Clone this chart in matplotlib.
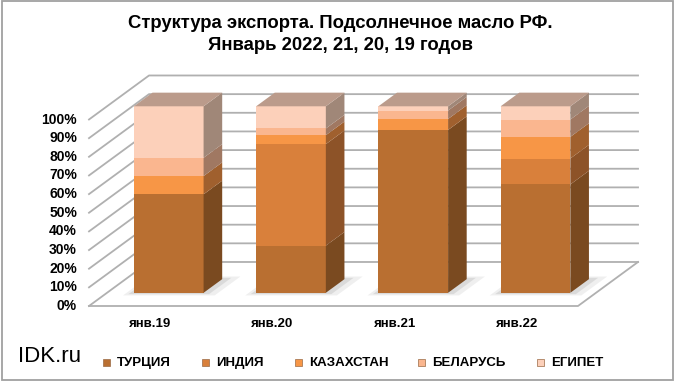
import matplotlib
matplotlib.use("Agg")
import matplotlib.pyplot as plt
from matplotlib.patches import Polygon, Rectangle

# --- data (shares, %) ---
categories = ["янв.19", "янв.20", "янв.21", "янв.22"]
series_names = ["ТУРЦИЯ", "ИНДИЯ", "КАЗАХСТАН", "БЕЛАРУСЬ", "ЕГИПЕТ"]
turkey = [52.8, 25.3, 87.3, 58.1]
india = [0.0, 54.4, 0.0, 13.9]
kazakhstan = [9.8, 4.8, 5.9, 11.6]
belarus = [9.8, 3.6, 4.5, 9.3]
egypt = [27.6, 11.9, 2.3, 7.1]
y_ticks = [0, 10, 20, 30, 40, 50, 60, 70, 80, 90, 100]

series = [turkey, india, kazakhstan, belarus, egypt]
front_colors = ["#B96F31", "#D9803B", "#F79646", "#FAB68F", "#FCD0BA"]
side_colors = ["#7A4A20", "#8D5328", "#A0602E", "#A07862", "#A08778"]
top_color = "#BB9B8B"

plt.rcParams['font.family'] = ['Liberation Sans', 'DejaVu Sans']

# oblique projection: depth z in [0, 1]
DX, DY = 0.491, 23.6


def P(x, y, z):
    return (x + z * DX, y + z * DY)


fig = plt.figure(figsize=(6.8, 3.85), dpi=100)
ax = fig.add_axes([0, 0, 1, 1])
ax.set_xlim(-89 / 122.25, (680 - 89) / 122.25)
ax.set_ylim((306 - 385) / 1.865, 306 / 1.865)
ax.axis('off')

grid_c = "#B0B0B0"
n = len(categories)

# walls and gridlines
for t in y_ticks:
    xs, ys = zip(P(0, t, 0), P(0, t, 1), P(n, t, 1))
    ax.plot(xs, ys, color=grid_c, lw=1.3, zorder=1)
# floor outline
xs, ys = zip(P(0, 0, 0), P(n, 0, 0), P(n, 0, 1))
ax.plot(xs, ys, color=grid_c, lw=1.3, zorder=1)

# y labels
for t in y_ticks:
    ax.text(-0.098, t, f"{t}%", ha='right', va='center', fontsize=10,
            fontweight='bold', color='black')

# category labels
for i, c in enumerate(categories):
    ax.text(i + 0.5, -9.4, c, ha='center', va='center', fontsize=9.5,
            fontweight='bold', color='black')

# bars
w = 0.57
z0, z1 = 0.3, 0.61
for i in range(n):
    x0 = i + 0.505 - w / 2
    x1 = x0 + w
    # soft shadow on the floor
    for k, a in [(0.06, 0.12), (0.03, 0.18)]:
        sh = [P(x0 - k, 0, z0 - k), P(x1 + 2 * k, 0, z0 - k),
              P(x1 + 2 * k, 0, z1 + k), P(x0 - k, 0, z1 + k)]
        ax.add_patch(Polygon(sh, closed=True, facecolor='#808080',
                             edgecolor='none', alpha=a, zorder=2))
    base = 0.0
    for s, vals in enumerate(series):
        v = vals[i]
        if v <= 0:
            continue
        top = base + v
        front = [P(x0, base, z0), P(x1, base, z0), P(x1, top, z0), P(x0, top, z0)]
        side = [P(x1, base, z0), P(x1, base, z1), P(x1, top, z1), P(x1, top, z0)]
        ax.add_patch(Polygon(front, closed=True, facecolor=front_colors[s],
                             edgecolor='none', zorder=3))
        ax.add_patch(Polygon(side, closed=True, facecolor=side_colors[s],
                             edgecolor='none', zorder=3))
        base = top
    lid = [P(x0, base, z0), P(x1, base, z0), P(x1, base, z1), P(x0, base, z1)]
    ax.add_patch(Polygon(lid, closed=True, facecolor=top_color,
                         edgecolor='none', zorder=3))

# title
fig.text(0.5, 1 - 24 / 385, "Структура экспорта. Подсолнечное масло РФ.",
         ha='center', va='center', fontsize=13.3, fontweight='bold')
fig.text(0.5, 1 - 45 / 385, "Январь 2022, 21, 20, 19 годов",
         ha='center', va='center', fontsize=13.3, fontweight='bold')

# watermark
fig.text(18 / 680, 1 - 357 / 385, "IDK.ru", ha='left', va='center',
         fontsize=16, color='black')

# legend
leg_sq_x = [103, 202, 295, 418, 537]
for name, col, sx in zip(series_names, front_colors, leg_sq_x):
    fig.patches.append(Rectangle((sx / 680, 1 - 366 / 385), 7 / 680, 7 / 385,
                                 transform=fig.transFigure, facecolor=col,
                                 edgecolor='#9A6A45', lw=0.5))
    fig.text((sx + 14) / 680, 1 - 363 / 385, name, ha='left', va='center',
             fontsize=9.5, fontweight='bold')

# outer border
fig.patches.append(Rectangle((2 / 680, 5 / 385), 671 / 680, 379 / 385,
                             transform=fig.transFigure, fill=False,
                             edgecolor='#A0A0A0', lw=1.3))

fig.savefig("out.png", dpi=100)
